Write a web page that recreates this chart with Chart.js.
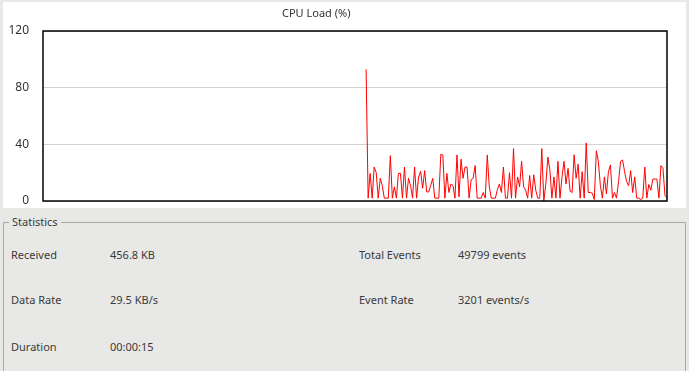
<!DOCTYPE html>
<html>
<head>
<meta charset="utf-8">
<script src="https://cdn.jsdelivr.net/npm/chart.js@4.4.1/dist/chart.umd.min.js"></script>
<style>
    html, body { margin: 0; padding: 0; }
    body {
        width: 689px; height: 371px; overflow: hidden; position: relative;
        background: #e8e8e7; font-family: "Noto Sans", sans-serif; color: #3a3a3a;
    }
    #chartBox { position: absolute; left: 3px; top: 2px; width: 683px; height: 206px; background: #fff; }
    #chartTitle { position: absolute; left: 282px; top: 5px; font-size: 11px; color: #333; }
    #stats {
        position: absolute; left: 3px; top: 216px; width: 683px; height: 200px;
        margin: 0; padding: 0; border: 1px solid #a8a8a8; box-sizing: border-box;
    }
    #stats legend { margin-left: 5px; padding: 0 3px; font-size: 11px; line-height: 12px; }
    .lbl, .val { position: absolute; font-size: 11px; line-height: 14px; }
</style>
</head>
<body>
<div id="chartBox"><canvas id="cpuChart" width="683" height="206"></canvas></div>
<div id="chartTitle">CPU Load (%)</div>
<fieldset id="stats"><legend>Statistics</legend></fieldset>
<div id="statRows"></div>
<script>
    // samples before logging started (no value recorded)
    const leadingGap = 160;

    // CPU load samples, percent
    const cpuLoad = [
        93, 2, 19.5, 2, 24, 20, 2, 16, 11, 2, 2, 2, 32, 2, 10, 2, 19.5, 19.5, 2, 24,
        2, 16, 11, 2, 24, 2, 17, 21, 9, 21.5, 6.4, 6.4, 11, 16, 2, 2, 2, 33, 32.5, 2,
        19.5, 6, 12, 11, 2, 32.5, 3, 29.5, 16, 24, 24, 2, 15, 16, 25, 2, 2, 2, 6, 2,
        32.5, 10, 2, 2, 2, 8, 12, 6,
        24, 2, 2, 20, 2, 37, 2, 17, 10, 28, 10, 7.6, 2, 18, 2, 18.5, 7.6, 2, 2, 37,
        0, 12, 31, 22, 2, 17, 2, 28, 2, 17, 28, 12, 23, 7, 6, 32.6, 16, 26, 2, 20.7,
        2, 41, 6, 6, 5.5, 1, 35.5, 28, 11, 2, 17, 5, 20.7, 25.5, 2, 6, 2, 13.6, 28, 29,
        20.7, 13.6, 10.7, 21.4, 6, 17, 2, 2, 1, 2, 24, 2, 11.7, 7.6, 15.5, 15.5, 15.5, 2,
        25, 23, 4, 2
    ];

    const yTicks = [0, 40, 80, 120];

    const statLabels = ['Received', 'Data Rate', 'Duration', 'Total Events', 'Event Rate'];
    const statValues = ['456.8 KB', '29.5 KB/s', '00:00:15', '49799 events', '3201 events/s'];

    // stats layout: left column 3 rows, right column 2 rows
    const rowTops = [248, 293, 340];
    const statRows = document.getElementById('statRows');
    statLabels.forEach((name, i) => {
        const col = i < 3 ? 0 : 1;
        const row = i < 3 ? i : i - 3;
        const l = document.createElement('div');
        l.className = 'lbl';
        l.textContent = name;
        l.style.left = (col ? 359 : 11) + 'px';
        l.style.top = rowTops[row] + 'px';
        const v = document.createElement('div');
        v.className = 'val';
        v.textContent = statValues[i];
        v.style.left = (col ? 458 : 110) + 'px';
        v.style.top = rowTops[row] + 'px';
        statRows.appendChild(l);
        statRows.appendChild(v);
    });

    const series = new Array(leadingGap).fill(null).concat(cpuLoad);
    const labels = series.map((_, i) => i);

    // black frame around plot area
    const frame = {
        id: 'frame',
        afterDraw(chart) {
            const a = chart.chartArea;
            const c = chart.ctx;
            c.save();
            c.strokeStyle = '#000';
            c.lineWidth = 1.5;
            c.strokeRect(a.left, a.top, a.right - a.left, a.bottom - a.top);
            c.restore();
        }
    };

    new Chart(document.getElementById('cpuChart'), {
        type: 'line',
        data: {
            labels: labels,
            datasets: [{
                data: series,
                borderColor: '#ff0000',
                borderWidth: 1,
                pointRadius: 0,
                tension: 0,
                spanGaps: false
            }]
        },
        options: {
            responsive: false,
            animation: false,
            layout: { padding: { top: 29, right: 19, bottom: 7, left: 0 } },
            plugins: { legend: { display: false }, tooltip: { enabled: false } },
            scales: {
                x: { display: false, offset: false },
                y: {
                    min: 0,
                    max: 120,
                    afterBuildTicks: s => { s.ticks = yTicks.map(v => ({ value: v })); },
                    afterFit: s => { s.width = 40; s.paddingTop = 0; s.paddingBottom = 0; },
                    border: { display: false },
                    grid: { color: '#d3d3d3', drawTicks: false },
                    ticks: {
                        padding: 14,
                        color: '#333',
                        font: { family: 'Noto Sans', size: 12 }
                    }
                }
            }
        },
        plugins: [frame]
    });
</script>
</body>
</html>
